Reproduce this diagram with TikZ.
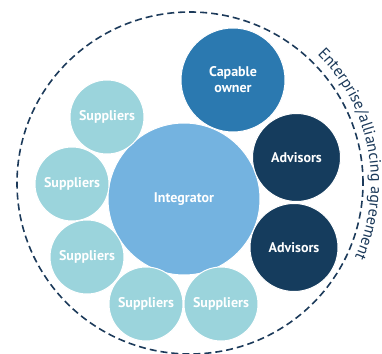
\documentclass[tikz,border=0pt]{standalone}
\usepackage{fontspec}
\setmainfont{PT Sans}
\usepackage{xcolor}
\usetikzlibrary{decorations.text}

\definecolor{supcol}{HTML}{9BD4DC}
\definecolor{intcol}{HTML}{74B3E0}
\definecolor{owncol}{HTML}{2B79B0}
\definecolor{advcol}{HTML}{153C5D}
\definecolor{linecol}{HTML}{1C3A5A}

\begin{document}
\begin{tikzpicture}[x=1pt, y=1pt,
    party/.style={circle, draw=white, line width=1pt, inner sep=0pt, align=center, text=white, font=\fontsize{14}{16}\selectfont\bfseries},
    supplier/.style={party, fill=supcol, minimum size=74pt},
    integrator/.style={party, fill=intcol, minimum size=152pt},
    owner/.style={party, fill=owncol, minimum size=104pt},
    advisor/.style={party, fill=advcol, minimum size=88pt},
    boundary/.style={draw=linecol, line width=1.6pt, dash pattern=on 7pt off 4pt}
]
\useasboundingbox (0,0) rectangle (382,353);
\clip (0,0) rectangle (382,353);

\draw[boundary] (190,170) ellipse[x radius=173, y radius=171];

\node[integrator] (intg) at (184,154)   {Integrator};
\node[owner]      (own)  at (233,273)   {Capable\\owner};
\node[advisor]    (adv1) at (296.5,195.5) {Advisors};
\node[advisor]    (adv2) at (294,105.5) {Advisors};

\node[supplier] (sup1) at (107,236) {Suppliers};
\node[supplier] (sup2) at (72,169)  {Suppliers};
\node[supplier] (sup3) at (87,96)   {Suppliers};
\node[supplier] (sup4) at (146,49)  {Suppliers};
\node[supplier] (sup5) at (221,49)  {Suppliers};

\path[decorate, decoration={text along path, text align=center,
    text={|\fontsize{16}{18}\selectfont\color{linecol}|Enterprise/alliancing agreement}}]
    (190,170) ++(47:181) arc[start angle=47, end angle=-26, radius=181];
\end{tikzpicture}
\end{document}
